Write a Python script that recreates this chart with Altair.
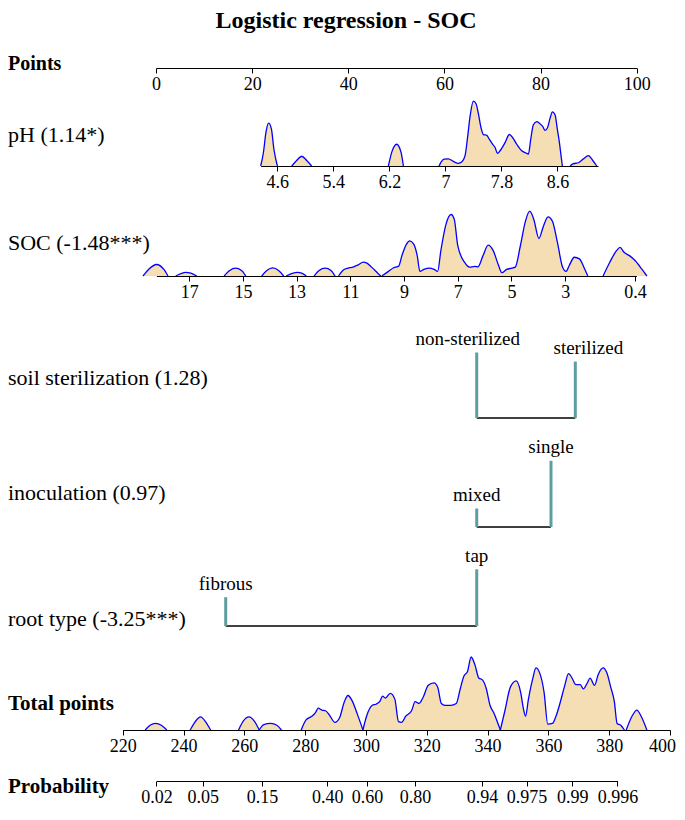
import math
import altair as alt
import pandas as pd

SERIF = "Liberation Serif"
WHEAT = "#F5DEB3"
BLUE = "#0000FF"
TEAL = "#5F9EA0"
W = 662

TITLE = "Logistic regression - SOC"

# ---------------- data ----------------
points_ticks = [0, 20, 40, 60, 80, 100]

ph_label = "pH (1.14*)"
ph_ticks = [4.6, 5.4, 6.2, 7, 7.8, 8.6]
ph_extent = [4.362, 9.18]
ph_x = [
    [4.362, 4.40, 4.438, 4.476, 4.514, 4.552, 4.60],
    [4.805, 4.876, 4.948, 5.019, 5.090],
    [6.186, 6.233, 6.305, 6.367, 6.40],
    [6.910, 6.938, 6.981, 7.043, 7.114, 7.186, 7.233, 7.281, 7.319, 7.352, 7.40, 7.438,
     7.471, 7.505, 7.543, 7.590, 7.629, 7.676, 7.710, 7.743, 7.781, 7.852, 7.914, 7.962,
     8.019, 8.090, 8.152, 8.186, 8.219, 8.257, 8.305, 8.343, 8.390, 8.424, 8.457, 8.495,
     8.529, 8.567, 8.60, 8.629, 8.652, 8.671],
    [8.781, 8.829, 8.90, 8.971, 9.043, 9.105, 9.162],
]
ph_density = [
    [0, 40, 105, 132, 115, 50, 0],
    [0, 17, 30, 17, 0],
    [0, 42, 67, 42, 0],
    [0, 12, 21, 22, 14, 8, 12, 32, 92, 152, 200, 192, 162, 122, 97, 95, 82, 67, 57, 39,
     47, 72, 97, 87, 67, 47, 40, 37, 82, 127, 137, 132, 122, 110, 117, 147, 167, 157,
     112, 72, 32, 0],
    [0, 7, 10, 22, 32, 17, 0],
]

soc_label = "SOC (-1.48***)"
soc_ticks = [17, 15, 13, 11, 9, 7, 5, 3, 0.4]
soc_extent = [18.22, 0.35]
soc_x = [
    [18.72, 18.51, 18.22, 17.94, 17.79],
    [17.50, 17.31, 17.13, 16.94, 16.72],
    [15.70, 15.49, 15.28, 15.05, 14.89],
    [14.30, 14.11, 13.89, 13.67, 13.48],
    [13.39, 13.16, 12.97, 12.79, 12.64],
    [12.35, 12.16, 11.94, 11.72, 11.57],
    [11.44, 11.28, 11.09, 10.90, 10.71, 10.52, 10.40, 10.21, 9.96, 9.87],
    [9.83, 9.58, 9.39, 9.20, 9.08, 8.91, 8.79, 8.64, 8.51, 8.41, 8.26, 8.07, 7.88, 7.75,
     7.63, 7.44, 7.25, 7.13, 7.00, 6.75, 6.56, 6.37, 6.25, 6.06, 5.87, 5.68, 5.49, 5.36,
     5.18, 4.99, 4.86, 4.67, 4.48, 4.32, 4.17, 3.98, 3.83, 3.64, 3.48, 3.29, 3.10, 2.97,
     2.85, 2.66, 2.47, 2.28, 2.16],
    [1.59, 1.34, 1.09, 0.96, 0.81, 0.61, 0.40, 0.14, -0.04],
]
soc_density = [
    [0, 20, 35, 20, 0],
    [0, 7, 11, 9, 0],
    [0, 17, 24, 17, 0],
    [0, 17, 25, 17, 0],
    [0, 8, 11, 8, 0],
    [0, 17, 24, 17, 0],
    [0, 17, 24, 27, 34, 42, 40, 27, 7, 0],
    [0, 14, 25, 30, 62, 97, 107, 97, 62, 14, 20, 24, 20, 14, 77, 157, 187, 172, 92, 42,
     27, 29, 28, 62, 94, 77, 34, 10, 20, 24, 27, 92, 167, 197, 172, 114, 147, 180, 167,
     102, 27, 14, 32, 57, 52, 22, 0],
    [0, 42, 77, 87, 72, 62, 47, 20, 0],
]

soil_label = "soil sterilization (1.28)"
soil_cats = ["non-sterilized", "sterilized"]
soil_points = [66.72, 87.23]
soil_freq = [65.5, 56.4]

inoc_label = "inoculation (0.97)"
inoc_cats = ["mixed", "single"]
inoc_points = [66.72, 82.17]
inoc_freq = [18.5, 66.2]

root_label = "root type (-3.25***)"
root_cats = ["fibrous", "tap"]
root_points = [14.50, 66.72]
root_freq = [28.8, 56.7]

total_label = "Total points"
total_ticks = [220, 240, 260, 280, 300, 320, 340, 360, 380, 400]
total_x = [
    [227.4, 229.0, 230.8, 232.7, 234.5],
    [242.2, 243.7, 245.6, 247.4, 248.9],
    [258.1, 259.7, 261.5, 263.4, 264.9],
    [264.9, 266.4, 268.7, 270.7, 272.2],
    [278.7, 280.3, 282.2, 283.4, 284.3, 285.5, 286.7, 288.0, 289.8, 291.3, 292.9, 294.1,
     295.3, 297.2, 299.0],
    [299.0, 300.2, 302.1, 303.3, 304.5, 305.5, 306.4, 308.0, 309.5, 310.7, 311.7, 313.1,
     315.0, 316.2, 317.4, 318.7, 320.5, 322.4, 323.6, 324.8, 326.0, 327.9, 329.7, 331.0,
     332.2, 333.4, 334.6, 335.9, 337.1, 338.3, 339.6, 340.8, 342.0, 343.2, 344.2],
    [344.2, 345.7, 347.5, 349.4, 350.9, 351.8, 352.5, 353.4, 354.9, 355.9, 357.1, 358.6,
     359.8, 361.3, 362.5, 363.8, 365.4, 366.6, 367.8, 369.0, 370.5, 371.5, 372.7, 373.7,
     375.2, 376.4, 378.0, 379.2, 380.5, 381.7, 382.6, 383.8, 385.0],
    [385.6, 387.5, 389.1, 390.5, 392.4],
]
total_density = [
    [0, 13, 18, 13, 0],
    [0, 21, 36, 21, 0],
    [0, 25, 36, 23, 0],
    [0, 15, 18, 13, 0],
    [0, 28, 38, 48, 60, 55, 53, 41, 21, 33, 78, 95, 83, 43, 0],
    [0, 38, 68, 71, 78, 93, 88, 101, 85, 23, 21, 38, 53, 78, 73, 88, 123, 130, 118, 73,
     68, 68, 73, 113, 148, 161, 201, 178, 143, 138, 113, 68, 48, 23, 0],
    [0, 53, 118, 135, 103, 58, 38, 83, 143, 171, 158, 103, 16, 18, 38, 73, 123, 155, 143,
     125, 125, 113, 128, 143, 123, 153, 171, 158, 118, 78, 18, 13, 0],
    [0, 38, 55, 38, 0],
]

prob_label = "Probability"
prob_ticks = [0.02, 0.05, 0.15, 0.40, 0.60, 0.80, 0.94, 0.975, 0.99, 0.996]
prob_text = ["0.02", "0.05", "0.15", "0.40", "0.60", "0.80", "0.94", "0.975", "0.99", "0.996"]

# ---------------- layout ----------------
H = {"points": 60, "ph": 98, "soc": 110, "soil": 142, "inoc": 109, "root": 99,
     "total": 104, "prob": 51}

POINTS_SCALE = alt.Scale(domain=[0, 100], range=[148, 628.7], nice=False, zero=False)
PH_SCALE = alt.Scale(domain=ph_extent, range=[252.7, 590.0], nice=False, zero=False)
SOC_SCALE = alt.Scale(domain=soc_extent, range=[148.4, 628.4], nice=False, zero=False)
TOTAL_SCALE = alt.Scale(domain=[220, 400], range=[114.7, 662.0], nice=False, zero=False)


def logit(p):
    return math.log(p / (1 - p))


prob_logit = [logit(p) for p in prob_ticks]
PROB_SCALE = alt.Scale(domain=[prob_logit[0], prob_logit[-1]], range=[148.4, 609.4],
                       nice=False, zero=False)


def make_axis(values, label_expr="format(datum.value, '~g')", **extra):
    return alt.Axis(values=values, title=None, grid=False, domainColor="black",
                    domainWidth=1, tickColor="black", tickWidth=1, tickSize=5,
                    labelFont=SERIF, labelFontSize=18, labelColor="black",
                    labelPadding=2, labelFlush=False, labelOverlap=False, zindex=1,
                    labelExpr=label_expr, **extra)


def label_text(label, y, bold=False, size=None):
    if size is None:
        size = 21 if bold else 22
    return alt.Chart(pd.DataFrame({"t": [label]})).mark_text(
        align="left", baseline="middle", font=SERIF, fontSize=size,
        fontWeight="bold" if bold else "normal", color="black"
    ).encode(x=alt.value(0), y=alt.value(y), text="t:N")


def dens_df(xs, ds):
    rows = []
    for i, (xx, dd) in enumerate(zip(xs, ds)):
        for a, b in zip(xx, dd):
            rows.append({"x": a, "d": b, "seg": i})
    return pd.DataFrame(rows)


def density_panel(xs, ds, scale, axis, height, peak_px, label, label_y, bold=False):
    df = dens_df(xs, ds)
    dmax = max(max(d) for d in ds)
    yscale = alt.Scale(domain=[0, dmax * height / peak_px], nice=False, zero=True)
    x = alt.X("x:Q", scale=scale, axis=axis)
    y = alt.Y("d:Q", scale=yscale, axis=None)
    base = alt.Chart(df)
    area = base.mark_area(color=WHEAT, opacity=1, interpolate="monotone").encode(
        x=x, y=y, detail="seg:N")
    line = base.mark_line(color=BLUE, strokeWidth=1.3, interpolate="monotone").encode(
        x=x, y=y, detail="seg:N")
    return alt.layer(area, line, label_text(label, label_y, bold)).properties(
        width=W, height=height)


LABEL_DX = {"non-sterilized": -9, "sterilized": 13}


def cat_panel(cats, pts, freq, height, label, label_y):
    df = pd.DataFrame({"cat": cats, "pts": pts, "h": freq, "zero": [0] * len(cats)})
    yscale = alt.Scale(domain=[0, height], nice=False)
    x = alt.X("pts:Q", scale=POINTS_SCALE, axis=None)
    y = alt.Y("h:Q", scale=yscale, axis=None)
    bars = alt.Chart(df).mark_rule(color=TEAL, strokeWidth=3).encode(
        x=x, y=y, y2="zero:Q")
    span = pd.DataFrame({"lo": [min(pts)], "hi": [max(pts)], "zero": [0]})
    base_line = alt.Chart(span).mark_rule(color="black", strokeWidth=1.3).encode(
        x=alt.X("lo:Q", scale=POINTS_SCALE, axis=None), x2="hi:Q",
        y=alt.Y("zero:Q", scale=yscale, axis=None))
    layers = [base_line, bars]
    for c in cats:
        sub = df[df["cat"] == c].reset_index(drop=True)
        layers.append(
            alt.Chart(sub).mark_text(
                font=SERIF, fontSize=19, baseline="middle", align="center", dy=-13.7,
                dx=LABEL_DX.get(c, 0), color="black"
            ).encode(x=x, y=y, text="cat:N")
        )
    layers.append(label_text(label, label_y))
    return alt.layer(*layers).properties(width=W, height=height)


# Points header panel
pts_df = pd.DataFrame({"v": points_ticks})
pts_marks = alt.Chart(pts_df).mark_point(opacity=0).encode(
    x=alt.X("v:Q", scale=POINTS_SCALE, axis=make_axis(points_ticks)))
title_mark = alt.Chart(pd.DataFrame({"t": [TITLE]})).mark_text(
    align="center", baseline="top", font=SERIF, fontSize=24, fontWeight="bold",
    color="black").encode(x=alt.value(338), y=alt.value(1), text="t:N")
p_points = alt.layer(pts_marks, title_mark,
                     label_text("Points", 56.4, True, 20)).properties(
    width=W, height=H["points"])

p_ph = density_panel(ph_x, ph_density, PH_SCALE, make_axis(ph_ticks), H["ph"], 64.9,
                     ph_label, 66.5)
p_soc = density_panel(soc_x, soc_density, SOC_SCALE, make_axis(soc_ticks), H["soc"], 64.8,
                      soc_label, 76.5)
p_soil = cat_panel(soil_cats, soil_points, soil_freq, H["soil"], soil_label, 101.8)
p_inoc = cat_panel(inoc_cats, inoc_points, inoc_freq, H["inoc"], inoc_label, 74.6)
p_root = cat_panel(root_cats, root_points, root_freq, H["root"], root_label, 92)
total_axis = make_axis(total_ticks, labelOffset={
    "condition": {"test": f"datum.value >= {total_ticks[-1]}", "value": -8}, "value": 0})
p_total = density_panel(total_x, total_density, TOTAL_SCALE, total_axis, H["total"], 73.0,
                        total_label, 77.7, bold=True)

# Probability panel
expr = "'" + prob_text[-1] + "'"
for i in range(len(prob_logit) - 2, -1, -1):
    thr = (prob_logit[i] + prob_logit[i + 1]) / 2
    expr = f"datum.value < {thr:.4f} ? '{prob_text[i]}' : ({expr})"
prob_df = pd.DataFrame({"v": prob_logit})
prob_marks = alt.Chart(prob_df).mark_point(opacity=0).encode(
    x=alt.X("v:Q", scale=PROB_SCALE, axis=make_axis(prob_logit, expr)))
p_prob = alt.layer(prob_marks, label_text(prob_label, 56.5, True)).properties(
    width=W, height=H["prob"])

chart = alt.vconcat(p_points, p_ph, p_soc, p_soil, p_inoc, p_root, p_total, p_prob,
                    spacing=0, bounds="flush").properties(
    padding=0, background="white").configure_view(strokeWidth=0)

chart.save("out.html", embed_options={"renderer": "svg", "actions": False})
